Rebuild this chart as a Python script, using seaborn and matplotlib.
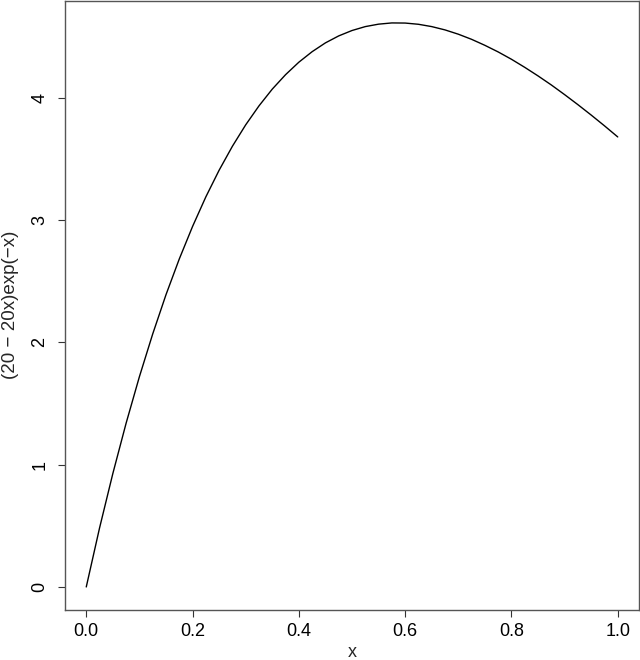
import matplotlib
matplotlib.use("Agg")
import matplotlib.pyplot as plt
import seaborn as sns
import pandas as pd

x_vals = [0.000, 0.025, 0.050, 0.075, 0.100, 0.125, 0.150, 0.175, 0.200, 0.225,
          0.250, 0.275, 0.300, 0.325, 0.350, 0.375, 0.400, 0.425, 0.450, 0.475,
          0.500, 0.525, 0.550, 0.575, 0.600, 0.625, 0.650, 0.675, 0.700, 0.725,
          0.750, 0.775, 0.800, 0.825, 0.850, 0.875, 0.900, 0.925, 0.950, 0.975, 1.000]
y_vals = [0.000, 0.482, 0.927, 1.339, 1.719, 2.068, 2.389, 2.681, 2.947, 3.189,
          3.407, 3.603, 3.778, 3.933, 4.070, 4.188, 4.290, 4.376, 4.448, 4.505,
          4.549, 4.581, 4.601, 4.611, 4.610, 4.600, 4.581, 4.554, 4.519, 4.477,
          4.428, 4.374, 4.314, 4.248, 4.178, 4.104, 4.025, 3.943, 3.858, 3.770, 3.679]
x_ticks = [0.0, 0.2, 0.4, 0.6, 0.8, 1.0]
y_ticks = [0, 1, 2, 3, 4]

sns.set_theme(style="white")
plt.rcParams['font.family'] = ['Liberation Sans', 'DejaVu Sans']

df = pd.DataFrame({"x": x_vals, "y": y_vals})

fig = plt.figure(figsize=(6.4, 6.6), dpi=100)
ax = fig.add_axes([65/640, 1 - 609.5/660, (639 - 65)/640, 609/660])
sns.lineplot(data=df, x="x", y="y", ax=ax, color="black", linewidth=1.0)

ax.set_xlim(-0.04, 1.04)
ax.set_ylim(-0.1844, 4.7944)
ax.set_xticks(x_ticks)
ax.set_xticklabels([f"{t:.1f}" for t in x_ticks])
ax.set_yticks(y_ticks)
ax.set_yticklabels([str(t) for t in y_ticks], rotation=90, va="center")
for s in ax.spines.values():
    s.set_visible(True)
    s.set_color("#555555")
    s.set_linewidth(1.0)
ax.tick_params(axis="x", direction="out", length=5, width=0.8, color="#333333",
               labelsize=13, labelcolor="black", pad=5, bottom=True)
ax.tick_params(axis="y", direction="out", length=5, width=0.8, color="#333333",
               labelsize=13, labelcolor="black", pad=7, left=True)
ax.set_xlabel("x", fontsize=13)
ax.set_ylabel("(20 − 20x)exp(−x)", fontsize=13.5)
ax.xaxis.set_label_coords(0.5, -0.057)
ax.yaxis.set_label_coords(-0.080, 0.5)
ax.grid(False)

fig.savefig("out.png", dpi=100)
